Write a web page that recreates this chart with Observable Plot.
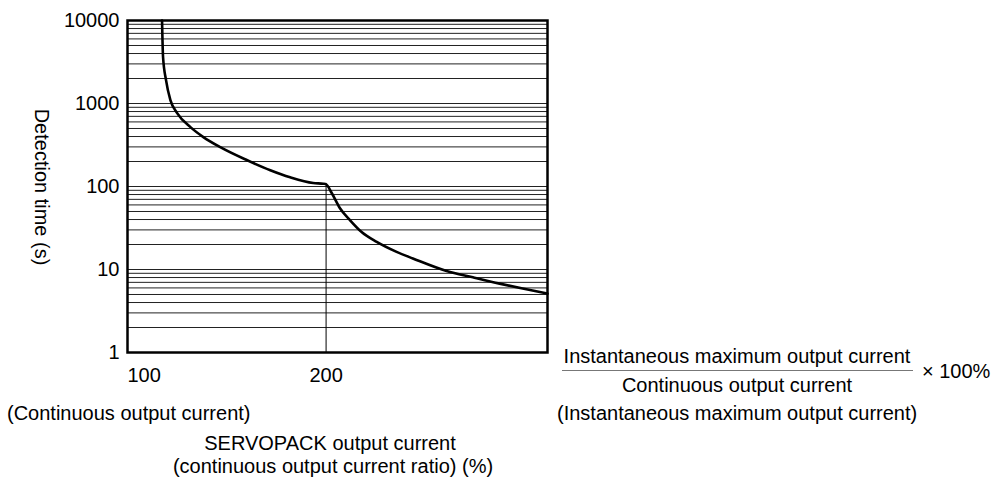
<!DOCTYPE html>
<html><head><meta charset="utf-8">
<script src="https://cdn.jsdelivr.net/npm/d3@7"></script>
<script src="https://cdn.jsdelivr.net/npm/@observablehq/plot@0.6"></script>
<style>
body{margin:0;background:#fff;}
#wrap{position:relative;width:993px;height:481px;font-family:"Liberation Sans",Arial,sans-serif;color:#000;background:#fff;}
.t{position:absolute;white-space:nowrap;font-size:20px;line-height:1;}
.c{transform:translate(-50%,-50%);}
.l{transform:translate(0,-50%);}
</style></head><body><div id="wrap"></div>
<script>
// Overload characteristic curve
const currentPct    = [117.4, 117.9, 119.4, 121.6, 125.0, 131.7, 138.2, 146.7, 160.3, 171.9, 181.9, 193.5, 198.6, 199.8, 202.9, 207.0, 212.1, 217.9, 225.5, 235.5, 243.7, 260.7, 273.9, 287.4, 299.0, 311.5];
const detectionTime = [10000, 3630, 1915, 1099, 766, 519, 394, 298, 207, 157, 129, 110, 108, 107, 83, 54.7, 39.2, 28.3, 21.5, 16.3, 13.6, 9.6, 8.05, 6.76, 5.89, 5.12];
const yTickLabels = [1, 10, 100, 1000, 10000];
const xTickLabels = [100, 200];
const kneeCurrent = 200;
const kneeTime = 107;
const gridMantissas = [1, 2, 3, 4, 5, 6, 7, 8, 9];
const gridDecades = [1, 10, 100, 1000];

const pts = currentPct.map((x, i) => ({x, y: detectionTime[i]}));
const grid = gridDecades.flatMap(d => gridMantissas.map(m => m * d)).filter(v => v > 1);

const chart = Plot.plot({
  width: 993, height: 481,
  marginLeft: 127, marginRight: 446, marginTop: 20, marginBottom: 129,
  x: {domain: [100, 311.5]},
  y: {type: "log", domain: [1, 10000]},
  style: {fontFamily: '"Liberation Sans", Arial, sans-serif', fontSize: "20px", background: "white", color: "black", overflow: "visible"},
  marks: [
    Plot.ruleY(grid, {stroke: "#222", strokeWidth: 1}),
    Plot.ruleX([kneeCurrent], {y1: 1, y2: kneeTime, stroke: "#000", strokeWidth: 1}),
    Plot.line(pts, {x: "x", y: "y", stroke: "#000", strokeWidth: 2.6, curve: "monotone-x"}),
    Plot.frame({stroke: "#000", strokeWidth: 2.5}),
    Plot.axisY(yTickLabels, {tickSize: 0, tickPadding: 8, tickFormat: d => String(d), label: null, fontSize: 20}),
    Plot.axisX([xTickLabels[0]], {tickSize: 0, tickPadding: 15, textAnchor: "start", label: null, fontSize: 20}),
    Plot.axisX([xTickLabels[1]], {tickSize: 0, tickPadding: 15, label: null, fontSize: 20})
  ]
});
const wrap = document.getElementById("wrap");
wrap.appendChild(chart);
chart.style.position = "absolute"; chart.style.left = "0"; chart.style.top = "0";

function txt(s, x, y, cls, extra) {
  const d = document.createElement("div");
  d.className = "t " + cls;
  d.textContent = s;
  d.style.left = x + "px"; d.style.top = y + "px";
  if (extra) Object.assign(d.style, extra);
  wrap.appendChild(d);
  return d;
}
txt("Detection time (s)", 42, 187, "c", {transform: "translate(-50%,-50%) rotate(90deg)"});
txt("(Continuous output current)", 7, 413, "l");
txt("SERVOPACK output current", 330, 443, "c");
txt("(continuous output current ratio) (%)", 333, 466, "c");
txt("Instantaneous maximum output current", 737, 356, "c");
txt("Continuous output current", 737, 385, "c");
txt("× 100%", 922, 371, "l");
txt("(Instantaneous maximum output current)", 557, 413, "l");
const line = document.createElement("div");
Object.assign(line.style, {position: "absolute", left: "562px", top: "370px", width: "351px", height: "0", borderTop: "1px solid #777"});
wrap.appendChild(line);
</script></body></html>
